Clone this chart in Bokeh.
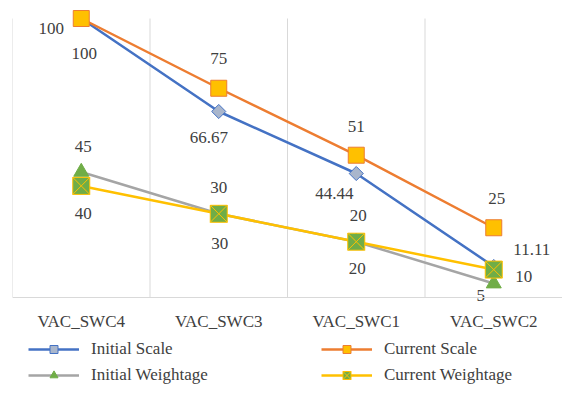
from bokeh.plotting import figure
from bokeh.models import FixedTicker, Legend, LegendItem, ColumnDataSource
from bokeh.core.properties import value
from bokeh.embed import file_html
from bokeh.resources import INLINE
import numpy as np

categories = ["VAC_SWC4", "VAC_SWC3", "VAC_SWC1", "VAC_SWC2"]
initial_scale = [100, 66.67, 44.44, 11.11]
current_scale = [100, 75, 51, 25]
initial_weightage = [45, 30, 20, 5]
current_weightage = [40, 30, 20, 10]
series_names = ["Initial Scale", "Current Scale", "Initial Weightage", "Current Weightage"]
y_max = 100

FONT = "Liberation Serif"
TXT = "#404040"

W, H = 562, 385
PX_PER_UNIT = 2.79      # vertical scale of the value axis
ZERO_PX = 297           # pixel row of value 0
n = len(categories)
xs = [i + 0.5 for i in range(n)]

p = figure(width=W, height=H, x_range=(0, n),
           y_range=(-(H - ZERO_PX) / PX_PER_UNIT, ZERO_PX / PX_PER_UNIT),
           output_backend="svg", toolbar_location=None, y_axis_location=None,
           min_border_left=12, min_border_right=0, min_border_top=0, min_border_bottom=0)
p.outline_line_color = None
p.xgrid.grid_line_color = None
p.ygrid.grid_line_color = None
p.background_fill_color = "white"
p.border_fill_color = "white"

# vertical category separators
bounds = list(range(n + 1))
p.segment(x0=bounds, y0=[0] * len(bounds), x1=bounds, y1=[y_max] * len(bounds),
          line_color="#D9D9D9", line_width=1, level="underlay")

ax = p.xaxis[0]
ax.fixed_location = 0
ax.ticker = FixedTicker(ticks=xs)
ax.major_label_overrides = {x: c for x, c in zip(xs, categories)}
ax.axis_line_color = "#D9D9D9"
ax.major_tick_line_color = None
ax.minor_tick_line_color = None
ax.major_label_standoff = 8
ax.major_label_text_font = FONT
ax.major_label_text_font_size = "17px"
ax.major_label_text_color = TXT

styles = [
    dict(line="#4472C4", marker="square", size=10, angle=np.pi / 4, fill="#A9B6CC", mline="#4472C4"),
    dict(line="#ED7D31", marker="square", size=16, angle=0, fill="#FFC000", mline="#ED7D31"),
    dict(line="#A5A5A5", marker="triangle", size=15, angle=0, fill="#70AD47", mline="#70AD47"),
    dict(line="#FFC000", marker="square_x", size=17, angle=0, fill="#70AD47", mline="#FFC000"),
]
offsets = [
    [(3, 35), (-10, 26), (-22, 20), (38, -17)],
    [(-30, 10), (0, -30), (0, -29), (3, -29)],
    [(2, -25), (1, 30), (1, 27), (-13, 12)],
    [(2, 28), (0, -26), (2, -26), (30, 7)],
]
all_series = [initial_scale, current_scale, initial_weightage, current_weightage]

items = []
for name, vals, st in zip(series_names, all_series, styles):
    src = ColumnDataSource(dict(x=xs, y=vals))
    ln = p.line("x", "y", source=src, line_color=st["line"], line_width=2.5)
    mk = p.scatter("x", "y", source=src, marker=st["marker"], size=st["size"], angle=st["angle"],
                   fill_color=st["fill"], line_color=st["mline"], line_width=1)
    items.append(LegendItem(label=name, renderers=[ln, mk]))

for name, vals, offs in zip(series_names, all_series, offsets):
    src = ColumnDataSource(dict(x=xs, y=vals, label=[f"{v:g}" for v in vals],
                                dx=[o[0] for o in offs], dy=[o[1] for o in offs]))
    p.text("x", "y", text="label", source=src, x_offset="dx", y_offset="dy",
           text_font=value(FONT), text_font_size="17px", text_color=TXT,
           text_align="center", text_baseline="middle")

legend = Legend(items=items, location=(16, 0), orientation="horizontal", ncols=2,
                glyph_width=51, glyph_height=20, label_height=20, label_width=224,
                label_standoff=12, spacing=6, padding=0, margin=0,
                border_line_color=None, background_fill_alpha=0,
                label_text_font=FONT, label_text_font_size="17px", label_text_color=TXT)
p.add_layout(legend, "center")

open("out.html", "w").write(file_html(p, INLINE))
